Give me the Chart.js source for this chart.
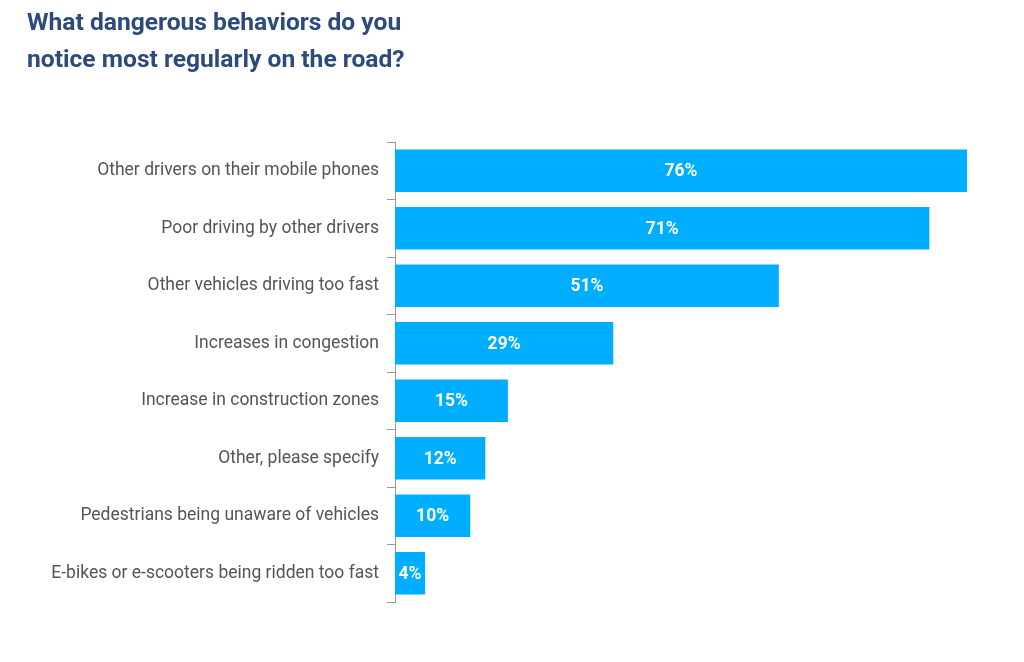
<!DOCTYPE html>
<html>
<head>
<meta charset="utf-8">
<script src="https://cdn.jsdelivr.net/npm/chart.js@4"></script>
<style>
  html, body { margin: 0; padding: 0; background: #fff; }
  #wrap { position: relative; width: 1024px; height: 662px; }
  #title { position: absolute; left: 27px; top: 4px; margin: 0; font-family: Roboto, sans-serif; font-weight: 700; font-size: 24.6px; line-height: 36.5px; color: #2c4a7c; }
  canvas { position: absolute; left: 0; top: 0; }
</style>
</head>
<body>
<div id="wrap">
  <canvas id="c" width="1024" height="662"></canvas>
  <h1 id="title">What dangerous behaviors do you<br>notice most regularly on the road?</h1>
</div>
<script>
const categories = [
  "Other drivers on their mobile phones",
  "Poor driving by other drivers",
  "Other vehicles driving too fast",
  "Increases in congestion",
  "Increase in construction zones",
  "Other, please specify",
  "Pedestrians being unaware of vehicles",
  "E-bikes or e-scooters being ridden too fast"
];
const values = [76, 71, 51, 29, 15, 12, 10, 4];

const barLabels = {
  id: 'barLabels',
  afterDatasetsDraw(chart) {
    const ctx = chart.ctx;
    const meta = chart.getDatasetMeta(0);
    ctx.save();
    ctx.fillStyle = '#ffffff';
    ctx.font = 'bold 17.5px Roboto, sans-serif';
    ctx.textAlign = 'center';
    ctx.textBaseline = 'middle';
    meta.data.forEach((bar, i) => {
      const x = (bar.x + bar.base) / 2;
      ctx.fillText(values[i] + '%', x, bar.y + 1);
    });
    ctx.restore();
  }
};

new Chart(document.getElementById('c'), {
  type: 'bar',
  data: {
    labels: categories,
    datasets: [{
      data: values,
      backgroundColor: '#00aeff',
      borderWidth: 0,
      categoryPercentage: 1,
      barPercentage: 0.737
    }]
  },
  options: {
    indexAxis: 'y',
    responsive: false,
    animation: false,
    devicePixelRatio: 1,
    layout: { padding: { top: 142, bottom: 60, right: 57, left: 0 } },
    plugins: { legend: { display: false }, title: { display: false }, tooltip: { enabled: false } },
    scales: {
      x: { display: false, min: 0, max: 76 },
      y: {
        afterFit(s) { s.width = 395; },
        grid: { offset: true, drawOnChartArea: false, drawTicks: true, tickLength: 8, color: '#9a9a9a', lineWidth: 1 },
        border: { display: true, color: '#9a9a9a', width: 1 },
        ticks: { color: '#555555', padding: 8, font: { family: 'Roboto, sans-serif', size: 17.5 } }
      }
    }
  },
  plugins: [barLabels]
});
</script>
</body>
</html>
